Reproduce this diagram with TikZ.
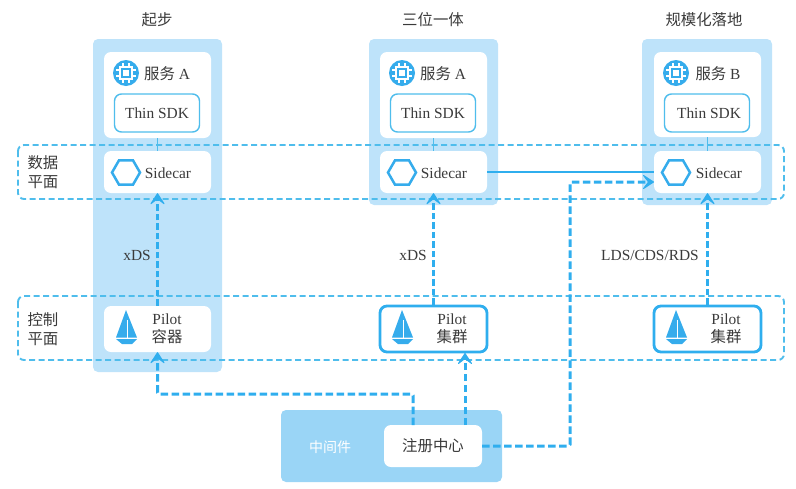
\documentclass[tikz,border=0pt]{standalone}
\usepackage{fontspec}
\setmainfont{Liberation Serif}
\newfontfamily\cjk{Noto Sans CJK SC}
\usetikzlibrary{arrows.meta,shapes.geometric}
\definecolor{lightblue}{HTML}{BEE3FA}
\definecolor{midblue}{HTML}{9AD5F6}
\definecolor{iconblue}{HTML}{35ACEC}
\definecolor{planeblue}{HTML}{4FBDEC}
\definecolor{flowblue}{HTML}{2FAEEE}
\definecolor{labelgray}{HTML}{3A3A3A}
\tikzset{
	label text/.style={text=labelgray, inner sep=0pt, font=\fontsize{15.4}{18.5}\selectfont, align=center},
	column box/.style={fill=lightblue, rounded corners=5pt},
	white box/.style={fill=white, rounded corners=7pt, inner sep=0pt},
	sdk box/.style={white box, draw=planeblue, line width=1.4pt, minimum width=85pt, minimum height=38pt},
	cluster box/.style={white box, draw=flowblue, line width=2.8pt, minimum width=107pt, minimum height=46pt},
	plane/.style={draw=planeblue, line width=1.9pt, dash pattern=on 6pt off 3.5pt, rounded corners=6pt},
	flow/.style={draw=flowblue, line width=3pt, dash pattern=on 7.5pt off 3.5pt, rounded corners=1.5pt},
	xds flow/.style={draw=flowblue, line width=2.6pt, dash pattern=on 6.5pt off 3pt},
	flow tip/.style={-{Stealth[length=13pt,width=17pt,inset=6.5pt,line width=1pt,round]}},
	hex/.style={regular polygon, regular polygon sides=6, draw=iconblue, line width=2.5pt, fill=white, minimum size=28pt, inner sep=0pt}
}
\def\chipicon(#1){
	\begin{scope}[shift={(#1)}]
		\fill[iconblue] (0,0) circle (13);
		\draw[white, line width=1.5pt] (-6,-6) rectangle (6,6);
		\fill[white] (-3,-3) rectangle (3,3);
		\foreach \p in {-3,3} {
			\draw[white, line width=1.4pt] (\p,-10) -- (\p,-6) (\p,6) -- (\p,10);
			\draw[white, line width=1.4pt] (-10,\p) -- (-6,\p) (6,\p) -- (10,\p);
		}
	\end{scope}
}
\def\sailicon(#1){
	\begin{scope}[shift={(#1)}]
		\fill[iconblue] (0,-1) -- (-10,26.5) -- (11,26.5) -- cycle;
		\draw[white, line width=1pt] (1,9) -- (1,27);
		\fill[iconblue] (-10,28) -- (11,28) -- (6,33) -- (-4,33) -- cycle;
	\end{scope}
}

\begin{document}
\begin{tikzpicture}[x=1pt, y=-1pt]
		%%%%% START %%%%%
		\useasboundingbox (0, 0) rectangle (796, 488);
		
		\fill[column box] (93, 39) rectangle (222, 372);
		\fill[column box] (369, 39) rectangle (498, 205);
		\fill[column box] (642, 39) rectangle (772, 205);
		
		\node[label text] (titleA) at (157, 20) {\cjk 起步};
		\node[label text] (titleB) at (433, 20) {\cjk 三位一体};
		\node[label text] (titleC) at (704, 20) {\cjk 规模化落地};
		
		\node[white box, minimum width=107pt, minimum height=86pt] (serviceA) at (157.5, 95) {};
		\node[white box, minimum width=107pt, minimum height=86pt] (serviceB) at (433.5, 95) {};
		\node[white box, minimum width=107pt, minimum height=85pt] (serviceC) at (707.5, 94.5) {};
		
		\node[white box, minimum width=107pt, minimum height=42pt] (sidecarA) at (157.5, 172) {};
		\node[white box, minimum width=107pt, minimum height=42pt] (sidecarB) at (433.5, 172) {};
		\node[white box, minimum width=107pt, minimum height=42pt] (sidecarC) at (707.5, 172) {};
		
		\draw[planeblue, line width=1.8pt] (serviceA) -- (sidecarA);
		\draw[planeblue, line width=1.8pt] (serviceB) -- (sidecarB);
		\draw[planeblue, line width=1.8pt] (serviceC) -- (sidecarC);
		
		\node[white box, minimum width=107pt, minimum height=46pt] (pilotA) at (157.5, 329) {};
		\node[cluster box] (pilotB) at (433.5, 329) {};
		\node[cluster box] (pilotC) at (707.5, 329) {};
		
		\node[sdk box] (sdkA) at (157, 113) {};
		\node[sdk box] (sdkB) at (433, 113) {};
		\node[sdk box] (sdkC) at (707, 113) {};
		\node[label text] (sdkAtext) at (157, 113.5) {Thin SDK};
		\node[label text] (sdkBtext) at (433, 113.5) {Thin SDK};
		\node[label text] (sdkCtext) at (709, 113.5) {Thin SDK};
		
		\chipicon(126, 73);
		\chipicon(402, 73);
		\chipicon(676, 73);
		\node[label text] (nameA) at (167, 74) {{\cjk 服务} A};
		\node[label text] (nameB) at (443, 74) {{\cjk 服务} A};
		\node[label text] (nameC) at (718, 74) {{\cjk 服务} B};
		
		\node[hex] (hexA) at (126, 172.5) {};
		\node[hex] (hexB) at (402, 172.5) {};
		\node[hex] (hexC) at (676, 172.5) {};
		\node[label text] (carA) at (168, 173) {Sidecar};
		\node[label text] (carB) at (444, 173) {Sidecar};
		\node[label text] (carC) at (719, 173) {Sidecar};
		
		\sailicon(126, 311);
		\sailicon(402, 311);
		\sailicon(676, 311);
		\node[label text] (pilotAtext) at (167, 329) {Pilot\\{\cjk 容器}};
		\node[label text] (pilotBtext) at (452, 329) {Pilot\\{\cjk 集群}};
		\node[label text] (pilotCtext) at (726, 329) {Pilot\\{\cjk 集群}};
		
		\draw[plane] (18, 145) rectangle (784, 199);
		\draw[plane] (18, 296) rectangle (784, 360);
		\node[label text] (dataplane) at (43, 172) {\cjk 数据\\\cjk 平面};
		\node[label text] (ctrlplane) at (43, 329) {\cjk 控制\\\cjk 平面};
		
		\node[label text] (xdsA) at (137, 255) {xDS};
		\node[label text] (xdsB) at (413, 255) {xDS};
		\node[label text] (xdsC) at (650, 255) {LDS/CDS/RDS};
		
		\fill[midblue, rounded corners=5pt] (281, 410) rectangle (502, 482);
		\node[white box, minimum width=98pt, minimum height=42pt] (registry) at (433, 446) {\color{labelgray}\fontsize{15.4}{18.5}\selectfont\cjk 注册中心};
		\node[text=white, inner sep=0pt, font=\fontsize{14}{16}\selectfont] (middleware) at (330, 447) {\cjk 中间件};
		
		\coordinate (regL) at (413, 425);
		\coordinate (regR) at (465, 425);
		\coordinate (bendA) at (157.5, 394);
		\coordinate (bendB) at (413, 394);
		\coordinate (bendC) at (570, 446);
		\coordinate (bendD) at (570, 182);
		\coordinate (pilotBin) at (465, 353);
		\coordinate (sidecarCin) at (654, 182);
		
		\draw[xds flow, flow tip] (pilotA.north) -- (sidecarA.south);
		\draw[xds flow, flow tip] (pilotB.north) -- (sidecarB.south);
		\draw[xds flow, flow tip] (pilotC.north) -- (sidecarC.south);
		
		\draw[flow, flow tip] (regL) -- (bendB) -- (bendA) -- (pilotA.south);
		\draw[flow, flow tip] (regR) -- (pilotBin);
		\draw[flow, flow tip] (registry.east) -- (bendC) -- (bendD) -- (sidecarCin);
		\draw[flowblue, line width=2.2pt] (sidecarB.east) -- (sidecarC.west);
		
		%%%%% END %%%%%
	\end{tikzpicture}
\end{document}
